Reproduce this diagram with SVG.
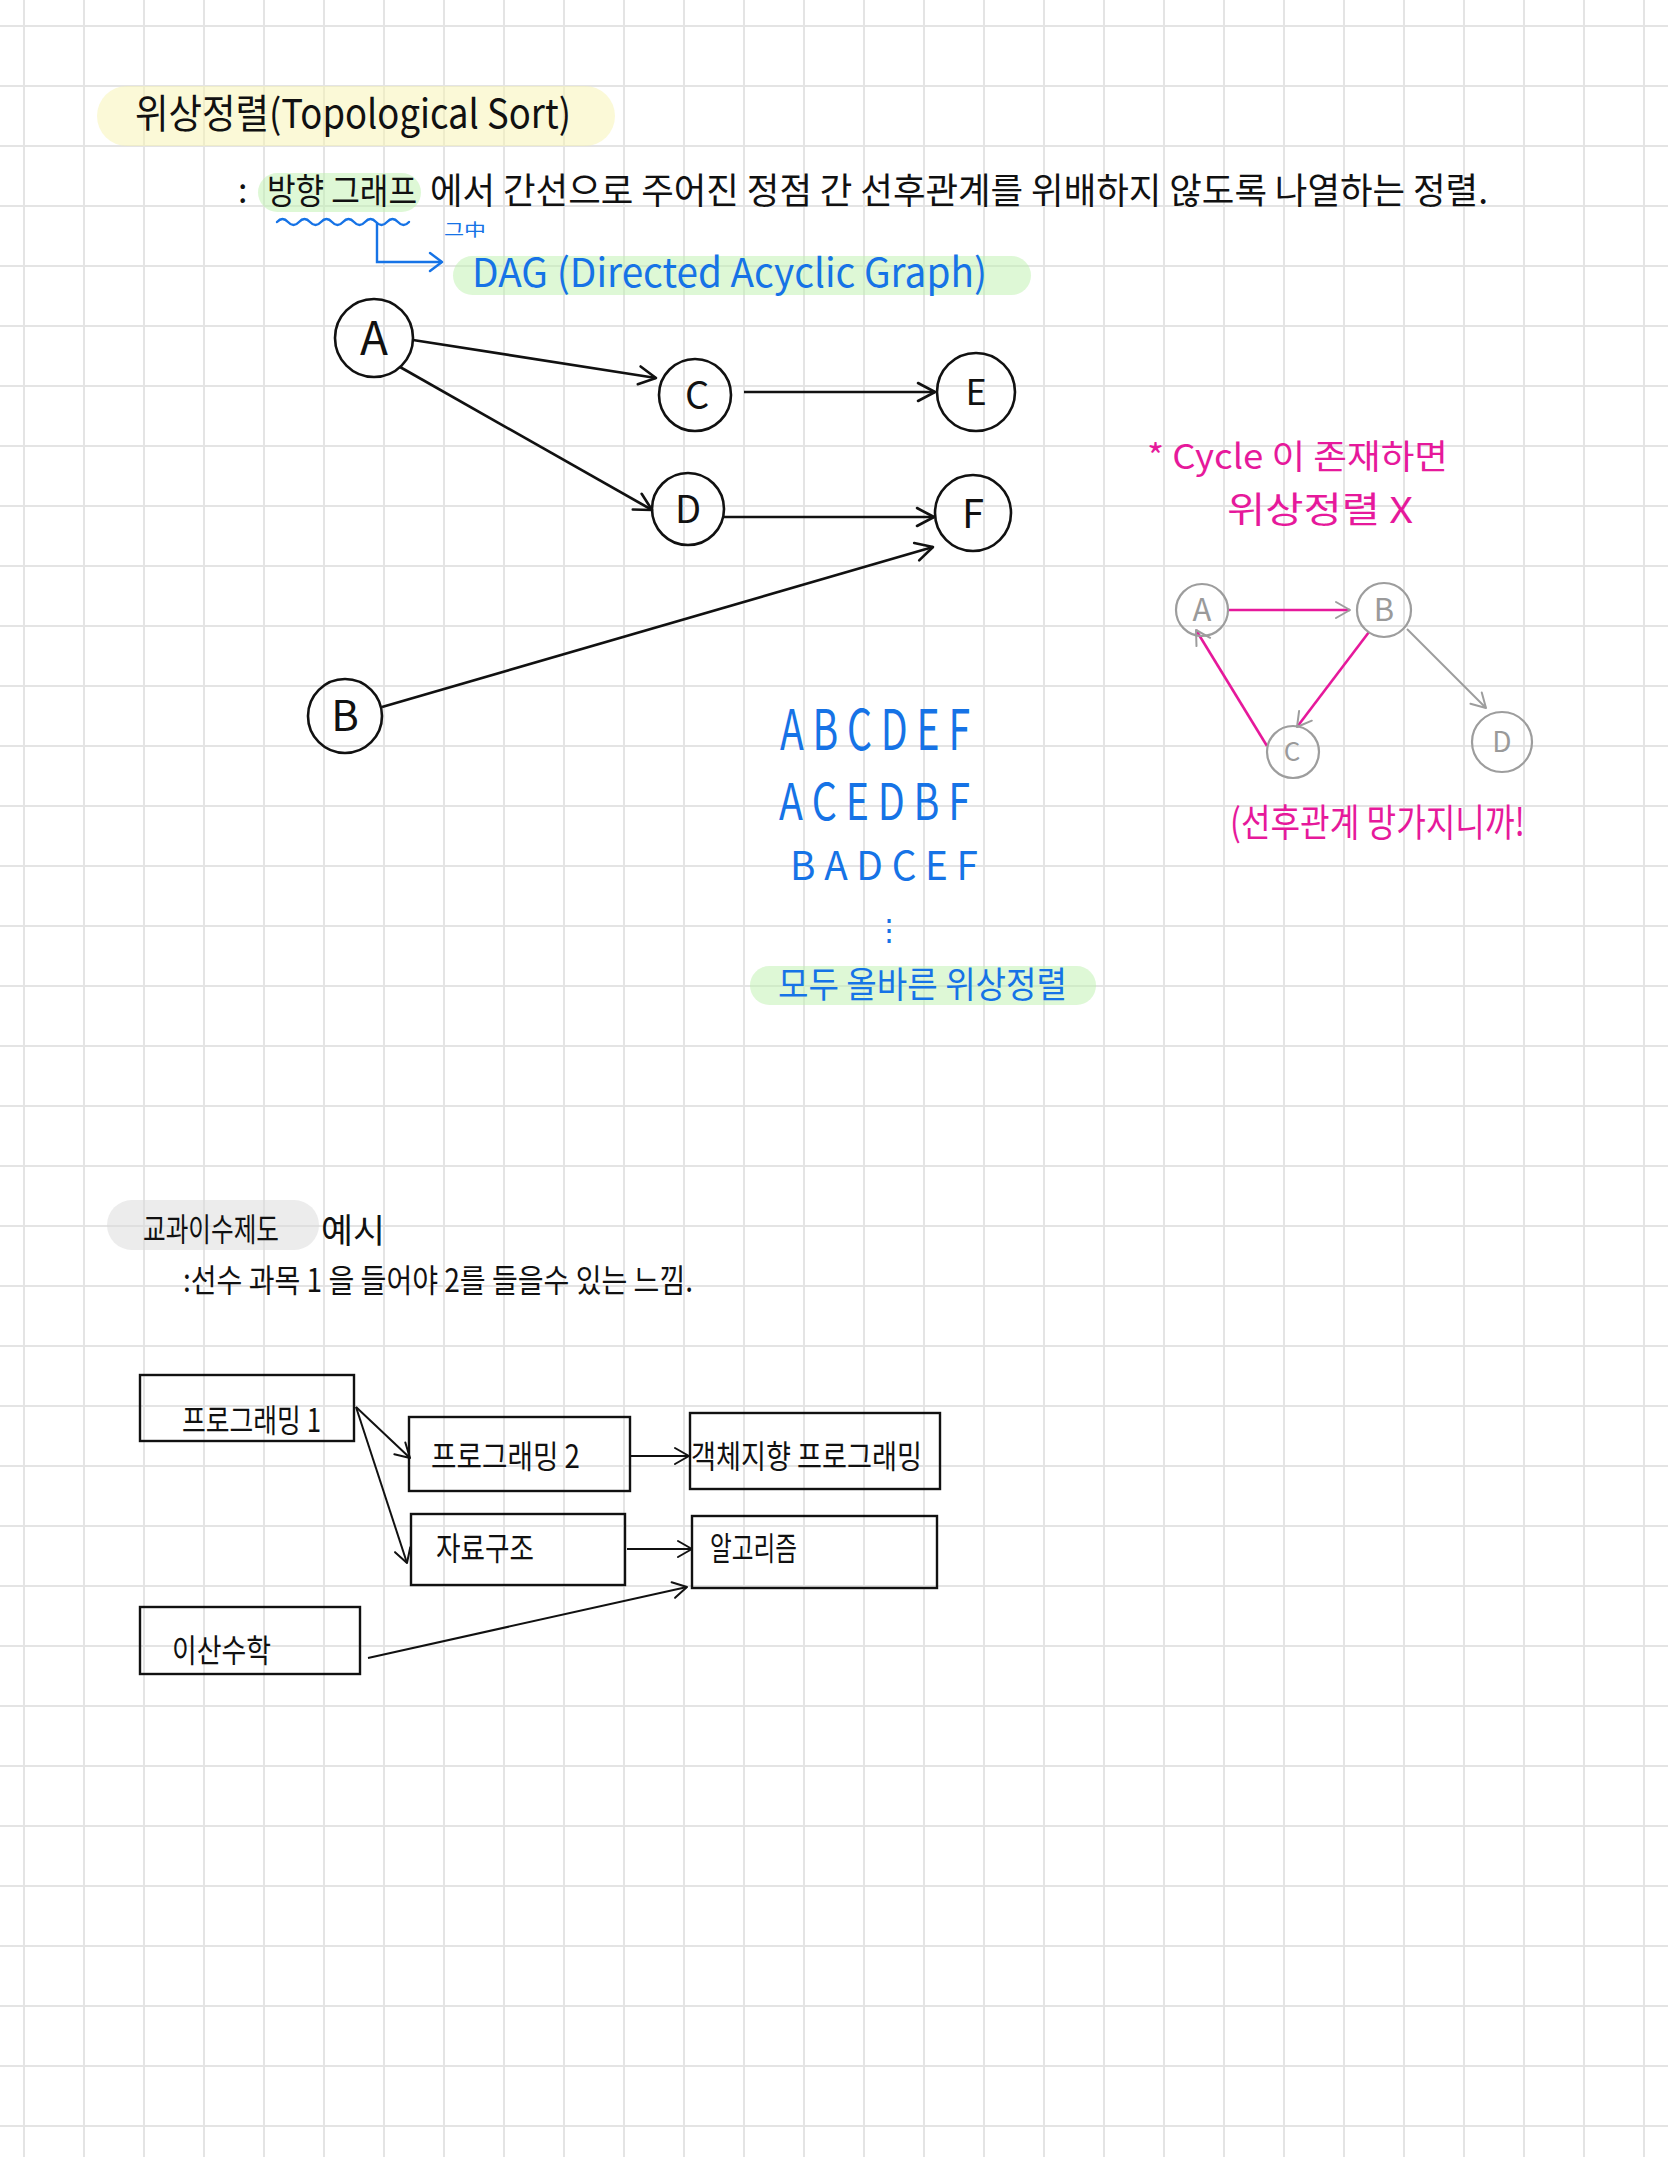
<svg xmlns="http://www.w3.org/2000/svg" width="1668" height="2157" viewBox="0 0 1668 2157">
<defs>
<style>
.grid line{stroke:#e4e4e4;stroke-width:2}
.t{font-family:'Noto Sans CJK KR','Noto Sans',sans-serif;font-weight:400}
.blk{fill:#111}
.blue{fill:#1673e6}
.pink{fill:#e6199b}
.gry{fill:#9a9a9a}
.node circle{fill:none;stroke:#111;stroke-width:2.6}
.cnode circle{fill:none;stroke:#9d9d9d;stroke-width:2.2}
.box rect{fill:none;stroke:#111;stroke-width:2.4}
.e{fill:none;stroke:#111;stroke-width:2.6;marker-end:url(#ah)}
.eb{fill:none;stroke:#111;stroke-width:2;marker-end:url(#ahs)}
.ep{fill:none;stroke:#e6199b;stroke-width:2.6;marker-end:url(#ahg)}
.eg{fill:none;stroke:#9d9d9d;stroke-width:2;marker-end:url(#ahg)}
.hl{opacity:0.5}
</style>
<marker id="ah" markerUnits="userSpaceOnUse" markerWidth="24" markerHeight="24" refX="19" refY="12" orient="auto" overflow="visible">
<path d="M2,3 L19,12 L2,21" fill="none" stroke="#111" stroke-width="2.6" stroke-linecap="round" stroke-linejoin="round"/>
</marker>
<marker id="ahs" markerUnits="userSpaceOnUse" markerWidth="20" markerHeight="20" refX="16" refY="10" orient="auto" overflow="visible">
<path d="M2,2 L16,10 L2,18" fill="none" stroke="#111" stroke-width="2" stroke-linecap="round" stroke-linejoin="round"/>
</marker>
<marker id="ahg" markerUnits="userSpaceOnUse" markerWidth="20" markerHeight="20" refX="16" refY="10" orient="auto" overflow="visible">
<path d="M2,2 L16,10 L2,18" fill="none" stroke="#9d9d9d" stroke-width="2" stroke-linecap="round" stroke-linejoin="round"/>
</marker>
<marker id="ahb" markerUnits="userSpaceOnUse" markerWidth="20" markerHeight="24" refX="14" refY="12" orient="auto" overflow="visible">
<path d="M2,3 L14,12 L2,21" fill="none" stroke="#1673e6" stroke-width="2.4" stroke-linecap="round" stroke-linejoin="round"/>
</marker>
</defs>
<rect x="0" y="0" width="1668" height="2157" fill="#ffffff"/>
<g class="grid" id="grid">
<line x1="24" y1="0" x2="24" y2="2157"/><line x1="84" y1="0" x2="84" y2="2157"/><line x1="144" y1="0" x2="144" y2="2157"/><line x1="204" y1="0" x2="204" y2="2157"/><line x1="264" y1="0" x2="264" y2="2157"/><line x1="324" y1="0" x2="324" y2="2157"/><line x1="384" y1="0" x2="384" y2="2157"/><line x1="444" y1="0" x2="444" y2="2157"/><line x1="504" y1="0" x2="504" y2="2157"/><line x1="564" y1="0" x2="564" y2="2157"/><line x1="624" y1="0" x2="624" y2="2157"/><line x1="684" y1="0" x2="684" y2="2157"/><line x1="744" y1="0" x2="744" y2="2157"/><line x1="804" y1="0" x2="804" y2="2157"/><line x1="864" y1="0" x2="864" y2="2157"/><line x1="924" y1="0" x2="924" y2="2157"/><line x1="984" y1="0" x2="984" y2="2157"/><line x1="1044" y1="0" x2="1044" y2="2157"/><line x1="1104" y1="0" x2="1104" y2="2157"/><line x1="1164" y1="0" x2="1164" y2="2157"/><line x1="1224" y1="0" x2="1224" y2="2157"/><line x1="1284" y1="0" x2="1284" y2="2157"/><line x1="1344" y1="0" x2="1344" y2="2157"/><line x1="1404" y1="0" x2="1404" y2="2157"/><line x1="1464" y1="0" x2="1464" y2="2157"/><line x1="1524" y1="0" x2="1524" y2="2157"/><line x1="1584" y1="0" x2="1584" y2="2157"/><line x1="1644" y1="0" x2="1644" y2="2157"/>
<line x1="0" y1="26" x2="1668" y2="26"/><line x1="0" y1="86" x2="1668" y2="86"/><line x1="0" y1="146" x2="1668" y2="146"/><line x1="0" y1="206" x2="1668" y2="206"/><line x1="0" y1="266" x2="1668" y2="266"/><line x1="0" y1="326" x2="1668" y2="326"/><line x1="0" y1="386" x2="1668" y2="386"/><line x1="0" y1="446" x2="1668" y2="446"/><line x1="0" y1="506" x2="1668" y2="506"/><line x1="0" y1="566" x2="1668" y2="566"/><line x1="0" y1="626" x2="1668" y2="626"/><line x1="0" y1="686" x2="1668" y2="686"/><line x1="0" y1="746" x2="1668" y2="746"/><line x1="0" y1="806" x2="1668" y2="806"/><line x1="0" y1="866" x2="1668" y2="866"/><line x1="0" y1="926" x2="1668" y2="926"/><line x1="0" y1="986" x2="1668" y2="986"/><line x1="0" y1="1046" x2="1668" y2="1046"/><line x1="0" y1="1106" x2="1668" y2="1106"/><line x1="0" y1="1166" x2="1668" y2="1166"/><line x1="0" y1="1226" x2="1668" y2="1226"/><line x1="0" y1="1286" x2="1668" y2="1286"/><line x1="0" y1="1346" x2="1668" y2="1346"/><line x1="0" y1="1406" x2="1668" y2="1406"/><line x1="0" y1="1466" x2="1668" y2="1466"/><line x1="0" y1="1526" x2="1668" y2="1526"/><line x1="0" y1="1586" x2="1668" y2="1586"/><line x1="0" y1="1646" x2="1668" y2="1646"/><line x1="0" y1="1706" x2="1668" y2="1706"/><line x1="0" y1="1766" x2="1668" y2="1766"/><line x1="0" y1="1826" x2="1668" y2="1826"/><line x1="0" y1="1886" x2="1668" y2="1886"/><line x1="0" y1="1946" x2="1668" y2="1946"/><line x1="0" y1="2006" x2="1668" y2="2006"/><line x1="0" y1="2066" x2="1668" y2="2066"/><line x1="0" y1="2126" x2="1668" y2="2126"/>
</g>

<g id="highlights">
<rect class="hl" x="97" y="86" width="518" height="60" rx="30" fill="#f8f4b0"/>
<rect class="hl" x="258" y="173" width="163" height="39" rx="19.5" fill="#bdf2ad"/>
<rect class="hl" x="453" y="256" width="578" height="39" rx="19.5" fill="#bdf2ad"/>
<rect class="hl" x="750" y="966" width="346" height="39" rx="19.5" fill="#bdf2ad"/>
<rect class="hl" x="107" y="1200" width="212" height="50" rx="25" fill="#d9d9d9"/>
</g>

<g id="header">
<text class="t blk" x="135" y="128" font-size="40" textLength="436" lengthAdjust="spacingAndGlyphs">위상정렬(Topological Sort)</text>
<text class="t blk" x="238" y="203" font-size="34">:</text>
<text class="t blk" x="267" y="204" font-size="35" textLength="150" lengthAdjust="spacingAndGlyphs">방향 그래프</text>
<text class="t blk" x="430" y="204" font-size="36" textLength="1058" lengthAdjust="spacingAndGlyphs">에서 간선으로 주어진 정점 간 선후관계를 위배하지 않도록 나열하는 정렬.</text>
<path d="M277,222 q5.5,-6 11,0 t11,0 t11,0 t11,0 t11,0 t11,0 t11,0 t11,0 t11,0 t11,0 t11,0 t11,0" fill="none" stroke="#1673e6" stroke-width="2.4" stroke-linecap="round"/>
<path d="M377,223 L377,262 L442,262" fill="none" stroke="#1673e6" stroke-width="2.4" marker-end="url(#ahb)"/>
<text class="t blue" x="444" y="236" font-size="17" textLength="42" lengthAdjust="spacingAndGlyphs">그中</text>
<text class="t blue" x="472" y="287" font-size="40" textLength="515" lengthAdjust="spacingAndGlyphs">DAG (Directed Acyclic Graph)</text>
</g>

<g id="connectors">
<line class="e" x1="413" y1="340" x2="656" y2="378"/>
<line class="e" x1="400" y1="367" x2="652" y2="510"/>
<line class="e" x1="744" y1="392" x2="935" y2="392"/>
<line class="e" x1="723" y1="517" x2="934" y2="517"/>
<line class="e" x1="382" y1="707" x2="933" y2="547"/>
<line class="ep" x1="1228" y1="610" x2="1350" y2="610"/>
<line class="ep" x1="1369" y1="632" x2="1297" y2="727"/>
<line class="ep" x1="1267" y1="746" x2="1196" y2="630"/>
<line class="eg" x1="1407" y1="629" x2="1486" y2="708"/>
<line class="eb" x1="356" y1="1407" x2="410" y2="1458"/>
<line class="eb" x1="356" y1="1407" x2="407" y2="1563"/>
<line class="eb" x1="630" y1="1456" x2="689" y2="1456"/>
<line class="eb" x1="627" y1="1549" x2="692" y2="1549"/>
<line class="eb" x1="368" y1="1658" x2="687" y2="1587"/>
</g>

<g id="node-A" class="node"><circle cx="374" cy="338" r="39"/><text class="t blk" x="374" y="355" font-size="46" text-anchor="middle">A</text></g>
<g id="node-C" class="node"><circle cx="695" cy="395" r="36"/><text class="t blk" x="697" y="409" font-size="38" text-anchor="middle">C</text></g>
<g id="node-E" class="node"><circle cx="976" cy="392" r="39"/><text class="t blk" x="976" y="405" font-size="36" text-anchor="middle">E</text></g>
<g id="node-D" class="node"><circle cx="688" cy="509" r="36"/><text class="t blk" x="688" y="523" font-size="38" text-anchor="middle">D</text></g>
<g id="node-F" class="node"><circle cx="973" cy="513" r="38"/><text class="t blk" x="973" y="528" font-size="40" text-anchor="middle">F</text></g>
<g id="node-B" class="node"><circle cx="345" cy="716" r="37"/><text class="t blk" x="345" y="731" font-size="42" text-anchor="middle">B</text></g>

<g id="sequences">
<text class="t blue" x="780" y="750" font-size="56" textLength="190" lengthAdjust="spacingAndGlyphs">A B C D E F</text>
<text class="t blue" x="779" y="820" font-size="50" textLength="191" lengthAdjust="spacingAndGlyphs">A C E D B F</text>
<text class="t blue" x="790" y="880" font-size="40" textLength="188" lengthAdjust="spacingAndGlyphs">B A D C E F</text>
<text class="t blue" x="889" y="940" font-size="30" text-anchor="middle">⋮</text>
<text class="t blue" x="778" y="998" font-size="36" textLength="289" lengthAdjust="spacingAndGlyphs">모두 올바른 위상정렬</text>
</g>

<g id="cycle-note">
<text class="t pink" x="1147" y="469" font-size="34" textLength="301" lengthAdjust="spacingAndGlyphs">* Cycle 이 존재하면</text>
<text class="t pink" x="1227" y="523" font-size="36" textLength="186" lengthAdjust="spacingAndGlyphs">위상정렬 X</text>
<text class="t pink" x="1230" y="836" font-size="38" textLength="295" lengthAdjust="spacingAndGlyphs">(선후관계 망가지니까!</text>
</g>
<g id="cnode-A" class="cnode"><circle cx="1202" cy="610" r="26"/><text class="t gry" x="1202" y="621" font-size="31" text-anchor="middle">A</text></g>
<g id="cnode-B" class="cnode"><circle cx="1384" cy="610" r="27"/><text class="t gry" x="1384" y="621" font-size="31" text-anchor="middle">B</text></g>
<g id="cnode-C" class="cnode"><circle cx="1293" cy="752" r="26"/><text class="t gry" x="1292" y="761" font-size="26" text-anchor="middle">C</text></g>
<g id="cnode-D" class="cnode"><circle cx="1502" cy="742" r="30"/><text class="t gry" x="1502" y="752" font-size="28" text-anchor="middle">D</text></g>

<g id="example-head">
<text class="t blk" x="143" y="1241" font-size="32" textLength="136" lengthAdjust="spacingAndGlyphs">교과이수제도</text>
<text class="t blk" x="321" y="1243" font-size="34" textLength="64" lengthAdjust="spacingAndGlyphs">예시</text>
<text class="t blk" x="183" y="1292" font-size="32" textLength="510" lengthAdjust="spacingAndGlyphs">:선수 과목 1 을 들어야 2를 들을수 있는 느낌.</text>
</g>
<g id="box-prog1" class="box"><rect x="140" y="1375" width="214" height="66"/><text class="t blk" x="182" y="1432" font-size="32" textLength="139" lengthAdjust="spacingAndGlyphs">프로그래밍 1</text></g>
<g id="box-prog2" class="box"><rect x="409" y="1417" width="221" height="74"/><text class="t blk" x="431" y="1468" font-size="32" textLength="149" lengthAdjust="spacingAndGlyphs">프로그래밍 2</text></g>
<g id="box-oop" class="box"><rect x="690" y="1413" width="250" height="76"/><text class="t blk" x="691" y="1468" font-size="32" textLength="231" lengthAdjust="spacingAndGlyphs">객체지향 프로그래밍</text></g>
<g id="box-ds" class="box"><rect x="411" y="1514" width="214" height="71"/><text class="t blk" x="436" y="1560" font-size="32" textLength="98" lengthAdjust="spacingAndGlyphs">자료구조</text></g>
<g id="box-algo" class="box"><rect x="692" y="1516" width="245" height="72"/><text class="t blk" x="710" y="1560" font-size="32" textLength="87" lengthAdjust="spacingAndGlyphs">알고리즘</text></g>
<g id="box-dm" class="box"><rect x="140" y="1607" width="220" height="67"/><text class="t blk" x="172" y="1662" font-size="32" textLength="99" lengthAdjust="spacingAndGlyphs">이산수학</text></g>
</svg>
